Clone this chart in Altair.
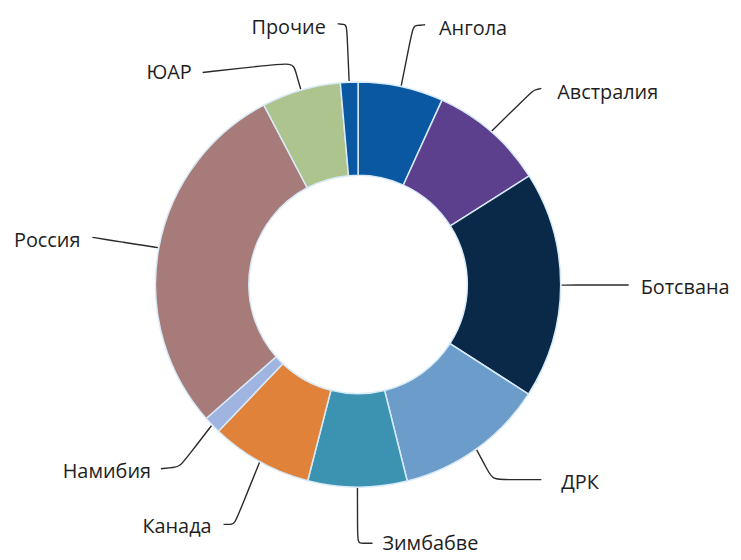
import math
import pandas as pd
import altair as alt

# ---- data ----
names = ["Ангола", "Австралия", "Ботсвана", "ДРК", "Зимбабве",
         "Канада", "Намибия", "Россия", "ЮАР", "Прочие"]
shares = [6.8, 9.2, 18.1, 12.0, 7.9, 8.1, 1.4, 28.8, 6.3, 1.4]
colors = ["#0b58a2", "#5c3f8d", "#0a2949", "#6c9cc9", "#3b93b1",
          "#e1823a", "#9fb4e0", "#a67b7a", "#aec48f", "#0b58a2"]

# ---- layout (annotation placement, chart pixel coords) ----
CX, CY = 352.5, 276.5
R_OUT, R_IN = 204, 110
label_x = [434, 553, 637, 557, 377, 205, 144, 73, 185, 320]
label_y = [25, 90, 286, 482, 544, 527, 471, 239, 70, 24]
label_side = ["left", "left", "left", "left", "left",
              "right", "right", "right", "right", "right"]
corner_x = [408, 529, 592, 488, 352, 228, 173, 116, 287, 341]
corner_y = [16, 81, 277, 473, 537, 518, 460, 234, 53, 15]
end_x = [420, 537, 625, 537, 367, 217, 154, 85, 196, 332]
end_y = [15, 79, 277, 473, 537, 518, 462, 229, 63, 14]

df = pd.DataFrame({"name": names, "share": shares, "idx": range(len(names))})

# leader lines start at the outer edge, at each slice's mid angle
total = sum(shares)
rows = []
cum = 0.0
for i, (n, s) in enumerate(zip(names, shares)):
    mid = (cum + s / 2) / total * 2 * math.pi
    cum += s
    p0 = (CX + (R_OUT + 1) * math.sin(mid), CY - (R_OUT + 1) * math.cos(mid))
    c = (corner_x[i], corner_y[i])
    p2 = (end_x[i], end_y[i])
    a = (p0[0] + 0.7 * (c[0] - p0[0]), p0[1] + 0.7 * (c[1] - p0[1]))
    b = (c[0] + 0.3 * (p2[0] - c[0]), c[1] + 0.3 * (p2[1] - c[1]))
    for k, (px, py) in enumerate([p0, a, c, b, p2]):
        rows.append({"name": n, "k": k, "px": px, "py": py})
lines_df = pd.DataFrame(rows)

labels_df = pd.DataFrame({"name": names, "lx": label_x, "ly": label_y,
                          "side": label_side})

arcs = alt.Chart(df).mark_arc(
    radius=R_OUT, radius2=R_IN, stroke="#d8eaf7", strokeWidth=1.5
).encode(
    theta=alt.Theta("share:Q", stack=True),
    order=alt.Order("idx:Q"),
    color=alt.Color("name:N", scale=alt.Scale(domain=names, range=colors),
                    legend=None),
    x=alt.value(CX),
    y=alt.value(CY),
)

leaders = alt.Chart(lines_df).mark_line(
    interpolate="basis", stroke="#2b2b2b", strokeWidth=1.4
).encode(
    x=alt.X("px:Q", scale=None, axis=None),
    y=alt.Y("py:Q", scale=None, axis=None),
    detail="name:N",
    order="k:Q",
)

text_left = alt.Chart(labels_df).transform_filter(
    alt.datum.side == "left"
).mark_text(
    font="Open Sans", fontSize=20, align="left", baseline="alphabetic",
    color="#1e1e1e"
).encode(
    x=alt.X("lx:Q", scale=None, axis=None),
    y=alt.Y("ly:Q", scale=None, axis=None),
    text="name:N",
)

text_right = alt.Chart(labels_df).transform_filter(
    alt.datum.side == "right"
).mark_text(
    font="Open Sans", fontSize=20, align="right", baseline="alphabetic",
    color="#1e1e1e"
).encode(
    x=alt.X("lx:Q", scale=None, axis=None),
    y=alt.Y("ly:Q", scale=None, axis=None),
    text="name:N",
)

chart = alt.layer(arcs, leaders, text_left, text_right).properties(
    width=730, height=550, padding=0, autosize="none", background="white"
).configure_view(stroke=None)

chart.save("out.html", embed_options={"renderer": "svg", "actions": False})
